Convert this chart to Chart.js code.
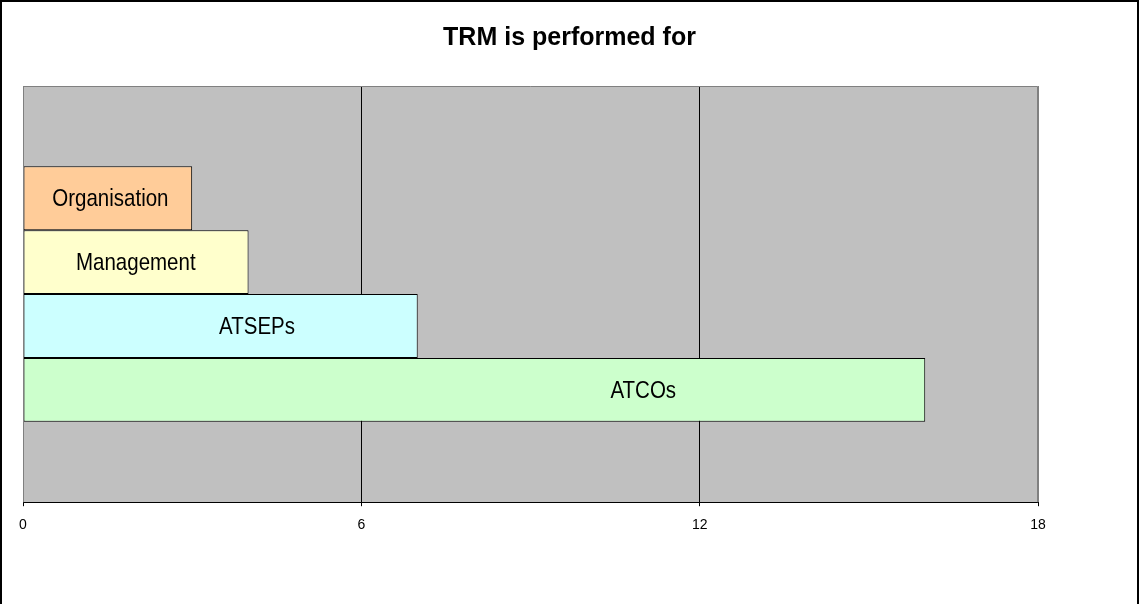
<!DOCTYPE html>
<html>
<head>
<meta charset="utf-8">
<script src="https://cdn.jsdelivr.net/npm/chart.js@4"></script>
<style>
  html, body { margin: 0; padding: 0; background: #fff; }
  #wrap { position: relative; width: 1139px; height: 604px; box-sizing: border-box;
          border-left: 2px solid #000; border-top: 2px solid #000; border-right: 2px solid #000; }
  canvas { position: absolute; left: -2px; top: -2px; }
</style>
</head>
<body>
<div id="wrap"><canvas id="c" width="1139" height="604"></canvas></div>
<script>
const titleText = 'TRM is performed for';
const categories = ['Organisation', 'Management', 'ATSEPs', 'ATCOs'];
const values = [3, 4, 7, 16];
const tickValues = [0, 6, 12, 18];
const labelAt = [1.55, 2, 4.15, 11];
const colors = ['#FFCC99', '#FFFFCC', '#CCFFFF', '#CCFFCC'];

const plotBg = {
  id: 'plotBg',
  beforeDraw(chart) {
    const a = chart.chartArea, ctx = chart.ctx;
    ctx.save();
    ctx.fillStyle = '#C0C0C0';
    ctx.fillRect(a.left, a.top, a.right - a.left, a.bottom - a.top);
    ctx.restore();
  },
  afterDraw(chart) {
    const a = chart.chartArea, ctx = chart.ctx;
    ctx.save();
    ctx.strokeStyle = '#808080';
    ctx.lineWidth = 1;
    ctx.beginPath();
    ctx.moveTo(a.left + 0.5, a.bottom);
    ctx.lineTo(a.left + 0.5, a.top + 0.5);
    ctx.lineTo(a.right - 0.5, a.top + 0.5);
    ctx.lineTo(a.right - 0.5, a.bottom);
    ctx.stroke();
    // chart title, centred on the whole canvas
    ctx.font = 'bold 25px "Liberation Sans", Arial, sans-serif';
    ctx.fillStyle = '#000';
    ctx.textAlign = 'center';
    ctx.textBaseline = 'alphabetic';
    ctx.fillText(titleText, chart.width / 2, 45);
    ctx.restore();
  }
};

const barLabels = {
  id: 'barLabels',
  afterDatasetsDraw(chart) {
    const ctx = chart.ctx, xs = chart.scales.x;
    chart.data.datasets.forEach((ds, i) => {
      const el = chart.getDatasetMeta(i).data[0];
      const x = xs.getPixelForValue(labelAt[i]);
      ctx.save();
      ctx.translate(x, el.y);
      ctx.scale(1, 1.15);
      ctx.font = '20.5px "Liberation Sans", Arial, sans-serif';
      ctx.fillStyle = '#000';
      ctx.textAlign = 'center';
      ctx.textBaseline = 'middle';
      ctx.fillText(ds.label, 0, 1);
      ctx.restore();
    });
  }
};

new Chart(document.getElementById('c'), {
  type: 'bar',
  data: {
    labels: [''],
    datasets: categories.map((c, i) => ({
      label: c,
      data: [values[i]],
      backgroundColor: colors[i],
      borderColor: '#000',
      borderWidth: 1,
      borderSkipped: false,
      barPercentage: 1,
      categoryPercentage: 0.614
    }))
  },
  options: {
    indexAxis: 'y',
    responsive: false,
    animation: false,
    devicePixelRatio: 1,
    layout: { padding: { left: 23, right: 101, top: 86, bottom: 59 } },
    plugins: {
      legend: { display: false },
      tooltip: { enabled: false },
      title: { display: false }
    },
    scales: {
      x: {
        min: 0, max: 18,
        afterBuildTicks(scale) { scale.ticks = tickValues.map(v => ({ value: v })); },
        ticks: {
          color: '#000',
          padding: 11,
          font: { family: '"Liberation Sans", Arial, sans-serif', size: 14 }
        },
        grid: {
          color: (ctx) => (ctx.index === 0 || ctx.index === tickValues.length - 1) ? '#808080' : '#000',
          tickColor: '#000',
          tickLength: 4,
          lineWidth: 1
        },
        border: { color: '#000', width: 1 }
      },
      y: { display: false }
    }
  },
  plugins: [plotBg, barLabels]
});
</script>
</body>
</html>
